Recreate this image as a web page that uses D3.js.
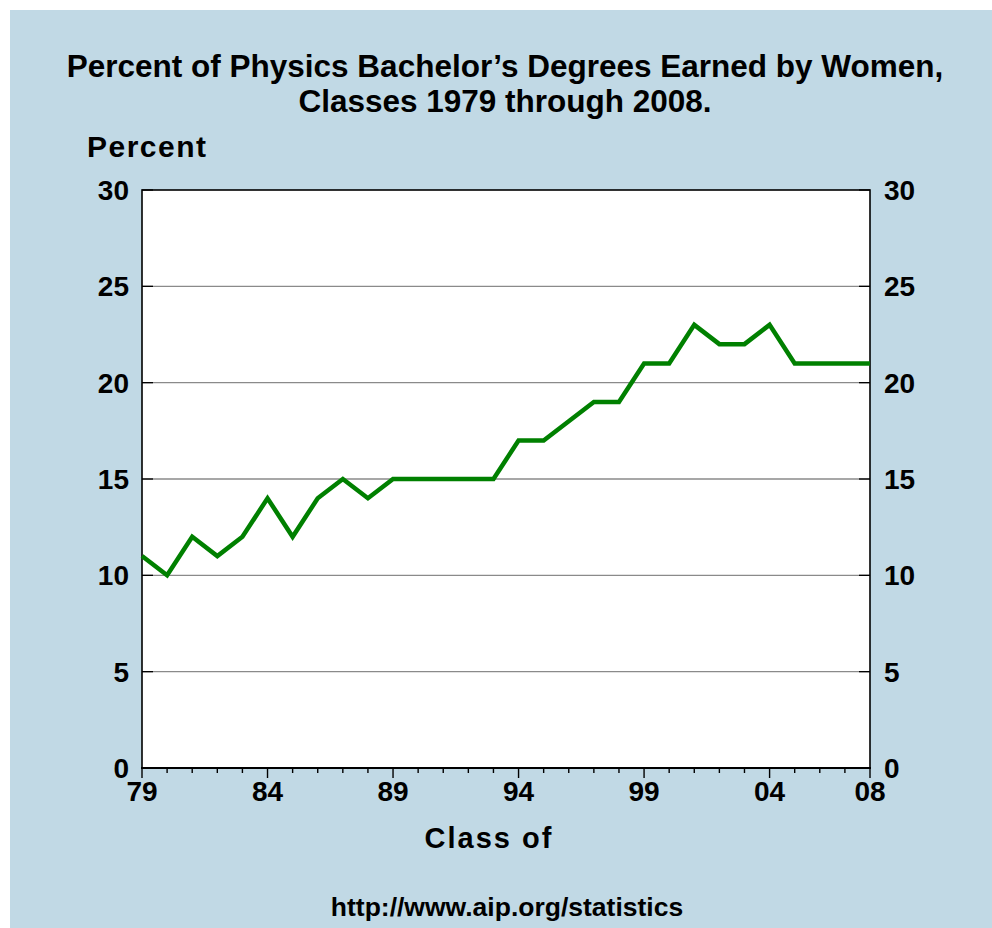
<!DOCTYPE html>
<html><head><meta charset="utf-8">
<script src="https://cdn.jsdelivr.net/npm/d3@7"></script>
<style>body{margin:0;background:#fff}svg{display:block}text{font-family:"Liberation Sans",Arial,Helvetica,sans-serif;font-weight:bold;fill:#000}</style>
</head><body>
<script>
const years = d3.range(1979, 2009);
const percentWomen = [11,10,12,11,12,14,12,14,15,14,15,15,15,15,15,17,17,18,19,19,21,21,23,22,22,23,21,21,21,21];
const yTicks = [0,5,10,15,20,25,30];
const xLabelYears = [1979,1984,1989,1994,1999,2004,2008];
const xLabels = ["79","84","89","94","99","04","08"];
const titleLines = ["Percent of Physics Bachelor\u2019s Degrees Earned by Women,","Classes 1979 through 2008."];

const W = 992, H = 928;
const svg = d3.select("body").append("svg").attr("width", W).attr("height", H);
svg.append("rect").attr("x",10).attr("y",10).attr("width",W-10).attr("height",H-10).attr("fill","#c1d9e5");

const L = 142, R = 870, T = 190, B = 768;
const x = d3.scaleLinear().domain([1979,2008]).range([L,R]);
const y = d3.scaleLinear().domain([0,30]).range([B,T]);

svg.append("rect").attr("x",L).attr("y",T).attr("width",R-L).attr("height",B-T).attr("fill","#fff");

// gridlines
svg.append("g").selectAll("line").data(yTicks.filter(d=>d>0&&d<30)).join("line")
  .attr("x1",L).attr("x2",R).attr("y1",d=>y(d)).attr("y2",d=>y(d))
  .attr("stroke","#8a8a8a").attr("stroke-width",1.3);

// y ticks inward, both sides
svg.append("g").selectAll("line").data(yTicks).join("line")
  .attr("x1",L).attr("x2",L+11).attr("y1",d=>y(d)).attr("y2",d=>y(d)).attr("stroke","#000").attr("stroke-width",1.3);
svg.append("g").selectAll("line").data(yTicks).join("line")
  .attr("x1",R-11).attr("x2",R).attr("y1",d=>y(d)).attr("y2",d=>y(d)).attr("stroke","#000").attr("stroke-width",1.3);

// frame
svg.append("rect").attr("x",L).attr("y",T).attr("width",R-L).attr("height",B-T).attr("fill","none").attr("stroke","#000").attr("stroke-width",1.6);
svg.append("line").attr("x1",L-1).attr("x2",R+1).attr("y1",B).attr("y2",B).attr("stroke","#000").attr("stroke-width",2.2);

// x ticks
svg.append("g").selectAll("line").data(years).join("line")
  .attr("x1",d=>x(d)).attr("x2",d=>x(d)).attr("y1",B).attr("y2",d=>xLabelYears.includes(d)?B+10:B+5)
  .attr("stroke","#000").attr("stroke-width",1.4);

// x labels
svg.append("g").selectAll("text").data(xLabelYears).join("text")
  .attr("x",d=>x(d)).attr("y",B+33).attr("text-anchor","middle").attr("font-size",28)
  .text((d,i)=>xLabels[i]);

// y labels
svg.append("g").selectAll("text").data(yTicks).join("text")
  .attr("x",L-13).attr("y",d=>y(d)+10).attr("text-anchor","end").attr("font-size",28).text(d=>d);
svg.append("g").selectAll("text").data(yTicks).join("text")
  .attr("x",R+14).attr("y",d=>y(d)+10).attr("text-anchor","start").attr("font-size",28).text(d=>d);

// data line
const line = d3.line().x((d,i)=>x(years[i])).y(d=>y(d));
svg.append("path").datum(percentWomen).attr("d",line).attr("fill","none")
  .attr("stroke","#008000").attr("stroke-width",4.5).attr("stroke-linejoin","miter");

// titles
svg.append("g").selectAll("text").data(titleLines).join("text")
  .attr("x",505).attr("y",(d,i)=>77+i*35).attr("text-anchor","middle").attr("font-size",31.5).text(d=>d);
svg.append("text").attr("x",87).attr("y",157).attr("font-size",30).attr("letter-spacing",1.5).text("Percent");
svg.append("text").attr("x",489).attr("y",848).attr("text-anchor","middle").attr("font-size",29).attr("letter-spacing",2).text("Class of");
svg.append("text").attr("x",507).attr("y",916).attr("text-anchor","middle").attr("font-size",26.5).text("http://www.aip.org/statistics");
</script>
</body></html>
